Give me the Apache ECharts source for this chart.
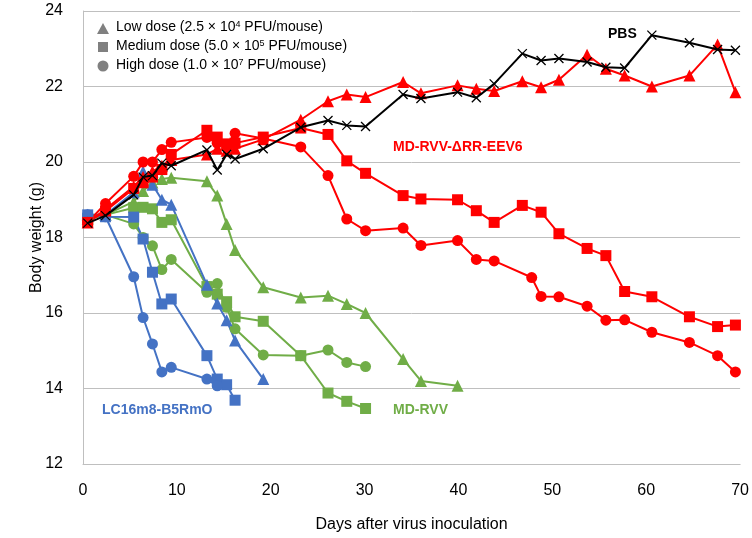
<!DOCTYPE html>
<html>
<head>
<meta charset="utf-8">
<script src="https://cdn.jsdelivr.net/npm/echarts@6/dist/echarts.min.js"></script>
<style>
  html, body { margin: 0; padding: 0; background: #fff; }
  #main { width: 752px; height: 538px; }
</style>
</head>
<body>
<div id="main"></div>
<script>
// days after inoculation (shared by every group)
var days = [0.5, 2.4, 5.4, 6.4, 7.4, 8.4, 9.4, 13.2, 14.3, 15.3, 16.2, 19.2, 23.2, 26.1, 28.1, 30.1,
            34.1, 36, 39.9, 41.9, 43.8, 46.8, 47.8, 48.8, 50.7, 53.7, 55.7, 57.7, 60.6, 64.6, 67.6, 69.5];

// body weight (g), null = no measurement
var pbs     = [18.38, 18.58, 19.13, 19.6, 19.64, 19.97, 19.9, 20.32, 19.79, 20.2, 20.08, 20.35, 20.92, 21.1, 20.97, 20.94,
               21.79, 21.68, 21.85, 21.7, 22.07, 22.87, null, 22.69, 22.74, 22.65, 22.51, 22.49, 23.36, 23.16, 22.98, 22.96];
var eevLow  = [18.4, 18.75, 19.35, 19.6, 19.75, 19.9, 20.05, 20.2, 20.35, 20.3, 20.35, 20.6, 21.12, 21.61, 21.79, 21.72,
               22.12, 21.82, 22.03, 21.94, 21.88, 22.14, null, 21.98, 22.18, 22.84, 22.47, 22.29, 22.0, 22.29, 23.11, 21.85];
var eevMed  = [18.4, 18.7, 19.3, 19.45, 19.6, 19.8, 20.2, 20.84, 20.66, 20.48, 20.5, 20.66, 20.9, 20.73, 20.03, 19.7,
               19.11, 19.02, 19.0, 18.71, 18.4, 18.85, null, 18.67, 18.1, 17.71, 17.52, 16.57, 16.43, 15.9, 15.64, 15.68];
var eevHigh = [18.4, 18.9, 19.62, 20.0, 20.0, 20.33, 20.52, 20.65, 20.5, 20.45, 20.76, 20.62, 20.4, 19.64, 18.49, 18.18,
               18.25, 17.79, 17.92, 17.42, 17.38, null, 16.94, 16.44, 16.43, 16.18, 15.81, 15.82, 15.49, 15.22, 14.87, 14.44];
var rvvLow  = [18.5, 18.6, 18.95, 19.23, 19.46, 19.55, 19.58, 19.49, 19.11, 18.36, 17.67, 16.68, 16.41, 16.46, 16.24, 16.0,
               14.78, 14.2, 14.07];
var rvvMed  = [18.5, 18.6, 18.79, 18.8, 18.76, 18.4, 18.47, 16.7, 16.5, 16.3, 15.9, 15.78, 14.87, 13.88, 13.66, 13.47];
var rvvHigh = [18.5, 18.6, 18.36, 18.0, 17.78, 17.15, 17.42, 16.55, 16.78, 16.15, 15.58, 14.89, 14.87, 15.02, 14.69, 14.58];
var lcLow   = [18.6, 18.6, 19.2, 19.75, 19.4, 19.0, 18.87, 16.75, 16.25, 15.81, 15.27, 14.25];
var lcMed   = [18.6, 18.55, 18.54, 17.96, 17.08, 16.24, 16.37, 14.87, 14.25, 14.1, 13.69];
var lcHigh  = [18.6, 18.55, 16.96, 15.88, 15.18, 14.44, 14.56, 14.25, 14.07];

var xTicks = [0, 10, 20, 30, 40, 50, 60, 70];
var yTicks = [12, 14, 16, 18, 20, 22, 24];

var RED = '#ff0000', GREEN = '#70ad47', BLUE = '#4472c4', GREY = '#808080';
var FONT = 'Liberation Sans, Arial, sans-serif';

function pairs(vals) {
    var out = [];
    for (var i = 0; i < vals.length; i++) {
        if (vals[i] != null) out.push([days[i], vals[i]]);
    }
    return out;
}

function line(name, vals, color, symbol, size) {
    return {
        name: name,
        type: 'line',
        data: pairs(vals),
        symbol: symbol,
        symbolSize: size,
        showAllSymbol: true,
        lineStyle: { color: color, width: 2 },
        itemStyle: { color: color },
        animation: false
    };
}

var crossPath = 'path://M0,0L10,10M10,0L0,10';

var pbsSeries = line('PBS', pbs, '#000', crossPath, 9);
pbsSeries.itemStyle = { color: 'rgba(0,0,0,0)', borderColor: '#000', borderWidth: 1.3 };
pbsSeries.z = 5;

var supStyle = { s: { fontSize: 9, verticalAlign: 'top', padding: [0, 0, 6, 0], fontFamily: FONT } };

var myChart = echarts.init(document.getElementById('main'));

var option = {
    backgroundColor: '#fff',
    textStyle: { fontFamily: FONT },
    grid: { left: 83, right: 5, top: 11, bottom: 74, containLabel: false },
    xAxis: {
        type: 'value',
        min: xTicks[0], max: xTicks[xTicks.length - 1], interval: 10,
        name: 'Days after virus inoculation',
        nameLocation: 'middle',
        nameGap: 53,
        nameMoveOverlap: false,
        nameTextStyle: { fontSize: 16, color: '#000', fontFamily: FONT },
        axisLine: { show: true, lineStyle: { color: '#bfbfbf', width: 1 } },
        axisTick: { show: false },
        axisLabel: { fontSize: 16, color: '#000', margin: 19, fontFamily: FONT },
        splitLine: { show: false }
    },
    yAxis: {
        type: 'value',
        min: yTicks[0], max: yTicks[yTicks.length - 1], interval: 2,
        name: 'Body weight (g)',
        nameLocation: 'middle',
        nameGap: 38,
        nameMoveOverlap: false,
        nameTextStyle: { fontSize: 16, color: '#000', fontFamily: FONT },
        axisLine: { show: true, lineStyle: { color: '#bfbfbf', width: 1 } },
        axisTick: { show: false },
        axisLabel: { fontSize: 16, color: '#000', margin: 20, fontFamily: FONT },
        splitLine: { show: true, lineStyle: { color: '#bfbfbf', width: 1 } }
    },
    series: [
        line('MD-RVV low', rvvLow, GREEN, 'triangle', 12),
        line('MD-RVV medium', rvvMed, GREEN, 'rect', 11),
        line('MD-RVV high', rvvHigh, GREEN, 'circle', 11),
        line('LC16m8 low', lcLow, BLUE, 'triangle', 12),
        line('LC16m8 medium', lcMed, BLUE, 'rect', 11),
        line('LC16m8 high', lcHigh, BLUE, 'circle', 11),
        line('EEV6 low', eevLow, RED, 'triangle', 12),
        line('EEV6 medium', eevMed, RED, 'rect', 11),
        line('EEV6 high', eevHigh, RED, 'circle', 11),
        pbsSeries
    ],
    graphic: [
        // dose legend
        { type: 'polygon', shape: { points: [[97, 34], [103, 23], [109, 34]] }, style: { fill: GREY } },
        { type: 'rect', shape: { x: 98, y: 42, width: 10, height: 10 }, style: { fill: GREY } },
        { type: 'circle', shape: { cx: 103, cy: 66, r: 5.5 }, style: { fill: GREY } },
        { type: 'text', left: 116, top: 20, style: {
            text: 'Low dose (2.5 × 10{s|4} PFU/mouse)', fontSize: 14, fill: '#000', fontFamily: FONT, rich: supStyle } },
        { type: 'text', left: 116, top: 39, style: {
            text: 'Medium dose (5.0 × 10{s|5} PFU/mouse)', fontSize: 14, fill: '#000', fontFamily: FONT, rich: supStyle } },
        { type: 'text', left: 116, top: 58, style: {
            text: 'High dose (1.0 × 10{s|7} PFU/mouse)', fontSize: 14, fill: '#000', fontFamily: FONT, rich: supStyle } },
        // group labels
        { type: 'text', left: 608, top: 27, style: { text: 'PBS', fontSize: 14, fontWeight: 'bold', fill: '#000', fontFamily: FONT } },
        { type: 'text', left: 393, top: 140, style: { text: 'MD-RVV-ΔRR-EEV6', fontSize: 14, fontWeight: 'bold', fill: RED, fontFamily: FONT } },
        { type: 'text', left: 102, top: 403, style: { text: 'LC16m8-B5RmO', fontSize: 14, fontWeight: 'bold', fill: BLUE, fontFamily: FONT } },
        { type: 'text', left: 393, top: 403, style: { text: 'MD-RVV', fontSize: 14, fontWeight: 'bold', fill: GREEN, fontFamily: FONT } }
    ]
};

myChart.setOption(option);
</script>
</body>
</html>
